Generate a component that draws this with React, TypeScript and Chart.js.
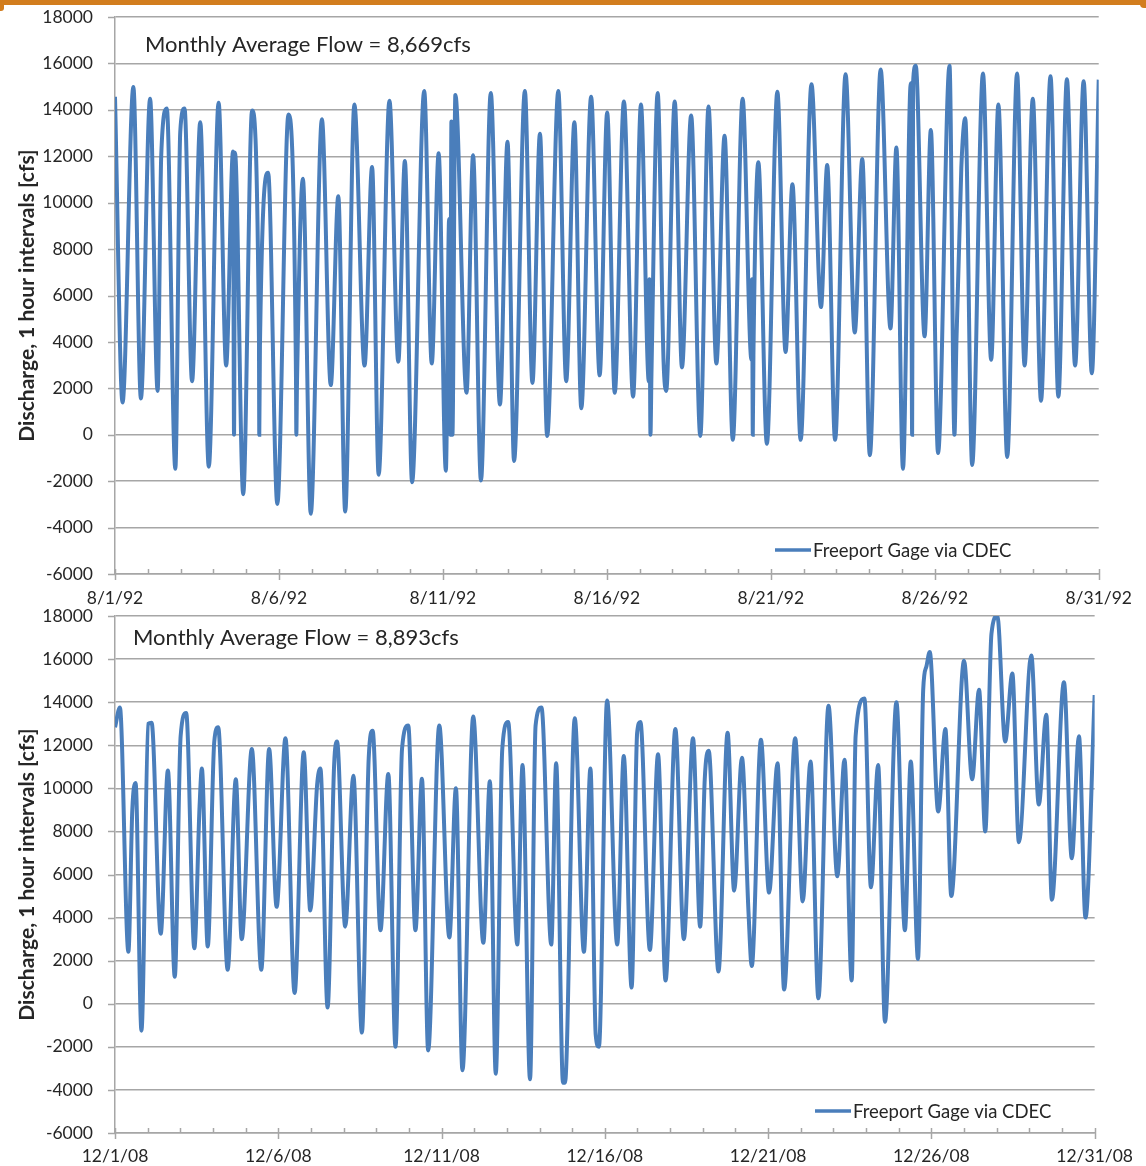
import React, { useEffect, useRef } from 'react';
import { Chart, registerables } from 'chart.js';

Chart.register(...registerables);

// ---------- data (day offset from start of month, discharge cfs) ----------
const augDays = [
  0.00, 0.23, 0.56, 0.79, 1.07, 1.30, 1.41, 1.58, 1.84, 1.99, 2.12, 2.35, 2.60, 2.86, 3.16, 3.39, 3.60, 3.63, 3.66, 3.91,
  4.18, 4.39, 4.40, 4.42, 4.67, 4.95, 5.29, 5.52, 5.53, 5.55, 5.73, 5.97, 6.31, 6.58, 6.81, 7.02, 7.30, 7.61, 7.84, 8.04,
  8.37, 8.64, 8.84, 9.06, 9.43, 9.66, 9.87, 10.09, 10.19, 10.22, 10.26, 10.29, 10.38, 10.72, 10.92, 11.16, 11.46, 11.74, 11.97, 12.17,
  12.50, 12.73, 12.96, 13.18, 13.52, 13.76, 14.01, 14.22, 14.52, 14.78, 15.01, 15.24, 15.52, 15.80, 16.04, 16.28, 16.30, 16.33, 16.36, 16.55,
  16.73, 16.81, 17.07, 17.29, 17.57, 17.85, 18.10, 18.34, 18.59, 18.84, 19.14, 19.41, 19.43, 19.45, 19.47, 19.62, 19.88, 20.20, 20.45, 20.66,
  20.91, 21.24, 21.53, 21.72, 21.96, 22.28, 22.56, 22.79, 23.02, 23.35, 23.65, 23.83, 24.03, 24.27, 24.31, 24.34, 24.42, 24.69, 24.88, 25.10,
  25.45, 25.60, 25.66, 25.81, 25.93, 26.14, 26.47, 26.72, 26.94, 27.21, 27.51, 27.74, 27.99, 28.24, 28.53, 28.77, 29.03, 29.28, 29.54, 29.79,
  30.00,
];
const augFlow = [
  14560, 1390, 14980, 1560, 14480, 1890, 12040, 14060, -1470, 13050, 14060, 2310, 13470, -1380, 14310, 2980, 12210, 0, 12150, -2560,
  13970, 4200, 0, 3800, 11290, -2980, 13800, 2400, 0, 2200, 11030, -3400, 13590, 2140, 10280, -3310, 14230, 2980, 11540, -1720,
  14390, 3150, 11790, -2050, 14810, 3070, 12130, -1550, 9300, 0, 13500, 0, 14640, 1810, 12040, -1970, 14730, 1300, 12630, -1130,
  14810, 2230, 12970, -50, 14810, 2310, 13470, 1140, 14560, 2560, 13890, 1810, 14360, 1640, 14230, 2300, 6700, 0, 2600, 14730,
  3150, 1890, 14360, 2900, 13760, -50, 14140, 3070, 12880, -220, 14480, 3230, 6700, 0, 3400, 11740, -390, 14780, 3570, 10790,
  -220, 15100, 5500, 11620, -220, 15530, 4410, 11880, -880, 15740, 4580, 12380, -1470, 15150, 0, 15200, 15900, 4240, 13130, -790,
  15900, 0, 3990, 11500, 13640, -1300, 15570, 3230, 14230, -960, 15570, 2980, 14480, 1470, 15450, 1640, 15320, 2980, 15230, 2650,
  15300,
];

const decDays = [
  0.00, 0.15, 0.41, 0.53, 0.63, 0.81, 1.02, 1.12, 1.40, 1.62, 1.83, 2.01, 2.18, 2.43, 2.59, 2.66, 2.84, 3.04, 3.16, 3.45,
  3.70, 3.88, 4.19, 4.48, 4.72, 4.95, 5.22, 5.50, 5.78, 5.98, 6.19, 6.29, 6.51, 6.71, 6.80, 7.05, 7.30, 7.56, 7.77, 7.89,
  8.13, 8.37, 8.59, 8.79, 8.98, 9.20, 9.40, 9.59, 9.93, 10.24, 10.44, 10.64, 10.97, 11.28, 11.48, 11.66, 11.86, 12.04, 12.32, 12.48,
  12.71, 12.88, 13.06, 13.36, 13.51, 13.72, 13.78, 14.08, 14.36, 14.56, 14.72, 14.82, 15.07, 15.38, 15.58, 15.82, 15.99, 16.09, 16.38, 16.63,
  16.86, 17.16, 17.42, 17.70, 17.92, 18.06, 18.18, 18.48, 18.76, 18.96, 19.20, 19.40, 19.50, 19.78, 20.03, 20.29, 20.49, 20.83, 21.06, 21.30,
  21.54, 21.85, 22.12, 22.34, 22.56, 22.68, 22.95, 23.15, 23.37, 23.58, 23.93, 24.19, 24.37, 24.59, 24.75, 24.85, 24.95, 25.21, 25.43, 25.61,
  26.00, 26.25, 26.46, 26.65, 26.84, 27.02, 27.26, 27.48, 27.68, 28.06, 28.29, 28.52, 28.69, 29.06, 29.30, 29.52, 29.72, 30.00,
];
const decFlow = [
  12830, 13750, 2410, 9000, 10250, -1250, 13000, 13050, 3250, 10830, 1250, 12420, 13500, 2580, 9170, 10920, 2660, 12170, 12830, 1580,
  10420, 3000, 11830, 1580, 11830, 4500, 12330, 500, 11670, 4330, 10170, 10920, -170, 11080, 12170, 3580, 10580, -1340, 11420, 12670,
  3410, 10670, -2000, 11830, 12920, 3410, 10450, -2170, 12920, 3080, 10000, -3090, 13330, 2830, 10330, -3250, 11830, 13080, 2750, 11080,
  -3510, 12920, 13750, 2750, 11170, -3670, -3670, 13250, 2410, 10920, -1420, -2000, 14080, 2750, 11500, 750, 12580, 13080, 2500, 11580,
  1080, 12750, 3000, 12330, 3580, 10420, 11750, 1500, 12580, 5250, 11420, 4250, 1750, 12250, 5160, 11170, 660, 12330, 4750, 11250,
  250, 13830, 5920, 11330, 1080, 12420, 14170, 5410, 11080, -840, 14000, 3410, 11250, 2080, 14580, 15670, 16330, 8920, 12750, 5000,
  15920, 10420, 14580, 8000, 17170, 18000, 12170, 15330, 7500, 16170, 9250, 13420, 4830, 14920, 6750, 12420, 4000, 14330,
];

const augTickLabels = ['8/1/92', '8/6/92', '8/11/92', '8/16/92', '8/21/92', '8/26/92', '8/31/92'];
const decTickLabels = ['12/1/08', '12/6/08', '12/11/08', '12/16/08', '12/21/08', '12/26/08', '12/31/08'];
const yMin = -6000;
const yMax = 18000;
const yStep = 2000;
const seriesName = 'Freeport Gage via CDEC';
const augNote = 'Monthly Average Flow = 8,669cfs';
const decNote = 'Monthly Average Flow = 8,893cfs';
const yTitle = 'Discharge, 1 hour intervals [cfs]';

const FONT = 'Lato, "Open Sans", sans-serif';
const LINE_BLUE = '#4a7ebb';
const GRID = '#a6a6a6';
const TEXT = '#262626';

const overlayPlugin = {
  id: 'overlay',
  afterDraw(chart: any, _args: any, opts: any) {
    const ctx = chart.ctx as CanvasRenderingContext2D;
    const xs = chart.scales.x;
    const ys = chart.scales.y;
    const { bottom, left } = chart.chartArea;
    ctx.save();
    ctx.strokeStyle = GRID;
    ctx.lineWidth = 1.5;
    // day tick marks on the x axis
    for (let d = xs.min; d <= xs.max; d++) {
      const px = Math.round(xs.getPixelForValue(d)) + 0.5;
      ctx.beginPath();
      ctx.moveTo(px, bottom - 5);
      ctx.lineTo(px, d % 5 === 0 ? bottom + 6 : bottom);
      ctx.stroke();
    }
    // short tick marks left of the y axis
    for (const t of ys.ticks) {
      const py = Math.round(ys.getPixelForValue(t.value)) + 0.5;
      ctx.beginPath();
      ctx.moveTo(left - 7, py);
      ctx.lineTo(left, py);
      ctx.stroke();
    }
    // note text
    ctx.fillStyle = TEXT;
    ctx.textBaseline = 'middle';
    ctx.textAlign = 'left';
    ctx.font = `22px ${FONT}`;
    ctx.fillText(opts.note, opts.noteX, opts.noteY);
    // legend
    ctx.strokeStyle = LINE_BLUE;
    ctx.lineWidth = 3.5;
    ctx.beginPath();
    ctx.moveTo(opts.legendX, opts.legendY);
    ctx.lineTo(opts.legendX + 36, opts.legendY);
    ctx.stroke();
    ctx.font = `18.5px ${FONT}`;
    ctx.fillText(opts.legend, opts.legendX + 38, opts.legendY + 1);
    ctx.restore();
  },
};

type Props = {
  days: number[];
  flow: number[];
  tickLabels: string[];
  note: string;
  height: number;
  padTop: number;
  padRight: number;
  xAxisHeight: number;
  labelPad: number;
  noteX: number;
  noteY: number;
  legendX: number;
  legendY: number;
};

function FlowChart(p: Props) {
  const ref = useRef<HTMLCanvasElement>(null);
  useEffect(() => {
    if (!ref.current) return;
    const chart = new Chart(ref.current, {
      type: 'line',
      data: {
        datasets: [
          {
            label: seriesName,
            data: p.days.map((d, i) => ({ x: d, y: p.flow[i] })),
            borderColor: LINE_BLUE,
            backgroundColor: LINE_BLUE,
            borderWidth: 4,
            pointRadius: 0,
            fill: false,
            cubicInterpolationMode: 'monotone',
          },
        ],
      },
      options: {
        animation: false,
        responsive: false,
        maintainAspectRatio: false,
        layout: { padding: { top: p.padTop, right: p.padRight, left: 0, bottom: 0 } },
        plugins: {
          legend: { display: false },
          tooltip: { enabled: false },
          overlay: {
            note: p.note,
            noteX: p.noteX,
            noteY: p.noteY,
            legend: seriesName,
            legendX: p.legendX,
            legendY: p.legendY,
          },
        } as any,
        scales: {
          x: {
            type: 'linear',
            min: 0,
            max: 30,
            afterFit: (s: any) => {
              s.height = p.xAxisHeight;
            },
            grid: { display: false, drawTicks: false },
            border: { display: true, color: GRID, width: 1.5 },
            ticks: {
              stepSize: 5,
              padding: p.labelPad,
              color: TEXT,
              font: { family: FONT, size: 17.5 },
              maxRotation: 0,
              autoSkip: false,
              callback: (v: any) => p.tickLabels[Math.round(Number(v) / 5)] ?? '',
            },
          },
          y: {
            min: yMin,
            max: yMax,
            afterFit: (s: any) => {
              s.width = 115;
            },
            grid: { color: GRID, lineWidth: 1.5, tickLength: 22, drawTicks: true, tickColor: 'rgba(0,0,0,0)' },
            border: { display: true, color: GRID, width: 1.5 },
            ticks: {
              stepSize: yStep,
              padding: 0,
              color: TEXT,
              font: { family: FONT, size: 17.5, lineHeight: 1 },
              callback: (v: any) => String(v),
            },
            title: {
              display: true,
              text: yTitle,
              color: TEXT,
              font: { family: FONT, size: 21, weight: 'bold' },
              padding: { top: 15, bottom: 0 },
            },
          },
        },
      },
      plugins: [overlayPlugin],
    });
    return () => chart.destroy();
  }, []);
  return (
    <canvas
      ref={ref}
      width={1146}
      height={p.height}
      style={{ display: 'block', width: 1146, height: p.height }}
    />
  );
}

export default function App() {
  return (
    <div style={{ position: 'absolute', left: 0, top: 0, width: 1146, height: 1166, background: '#fff', overflow: 'hidden' }}>
      <div style={{ position: 'absolute', left: 0, top: 0, width: 1146, height: 5, background: '#d27d1e' }} />
      <div style={{ position: 'absolute', left: 0, top: 0, width: 4, height: 11, background: '#d27d1e', borderBottomRightRadius: 3 }} />
      <div style={{ position: 'absolute', left: 1140, top: 0, width: 6, height: 8, background: '#d27d1e', borderBottomLeftRadius: 4 }} />
      <div style={{ position: 'absolute', left: 0, top: 0 }}>
        <FlowChart
          days={augDays}
          flow={augFlow}
          tickLabels={augTickLabels}
          note={augNote}
          height={605}
          padTop={17}
          padRight={43}
          xAxisHeight={31}
          labelPad={14}
          noteX={145}
          noteY={45}
          legendX={775}
          legendY={550}
        />
      </div>
      <div style={{ position: 'absolute', left: 0, top: 605 }}>
        <FlowChart
          days={decDays}
          flow={decFlow}
          tickLabels={decTickLabels}
          note={decNote}
          height={561}
          padTop={11}
          padRight={47}
          xAxisHeight={33}
          labelPad={13}
          noteX={133}
          noteY={33}
          legendX={815}
          legendY={506}
        />
      </div>
    </div>
  );
}
